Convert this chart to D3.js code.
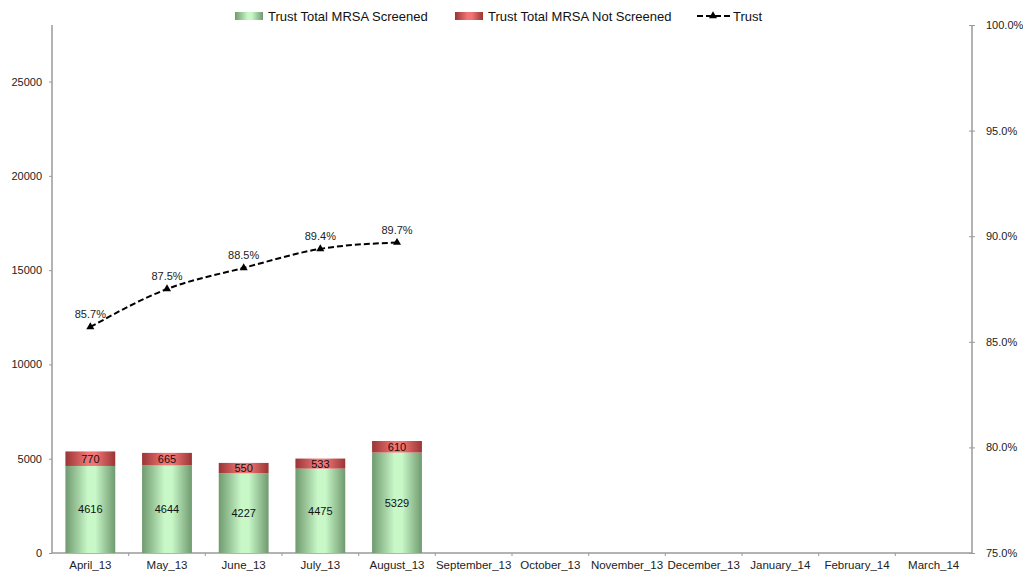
<!DOCTYPE html>
<html><head><meta charset="utf-8">
<script src="https://cdn.jsdelivr.net/npm/d3@7"></script>
<style>body{margin:0;background:#fff;}svg{display:block;font-family:"Liberation Sans",Arial,sans-serif;}</style>
</head><body><svg id="c" width="1023" height="573"></svg>
<script>
const categories = ["April_13","May_13","June_13","July_13","August_13","September_13","October_13","November_13","December_13","January_14","February_14","March_14"];
const screened = [4616,4644,4227,4475,5329,null,null,null,null,null,null,null];
const notScreened = [770,665,550,533,610,null,null,null,null,null,null,null];
const trust = [0.857,0.875,0.885,0.894,0.897,null,null,null,null,null,null,null];
const leftTicks = [0,5000,10000,15000,20000,25000];
const rightTicks = [0.75,0.80,0.85,0.90,0.95,1.00];

const svg = d3.select("#c");
const m = {l:52, r:972, t:25, b:553};
const x = d3.scaleBand().domain(categories).range([m.l,m.r]).paddingInner(0.35).paddingOuter(0.175);
const xb = d3.scaleBand().domain(categories).range([m.l,m.r]);
const yL = d3.scaleLinear().domain([0,28000]).range([m.b,m.t]);
const yR = d3.scaleLinear().domain([0.75,1.0]).range([m.b,m.t]);

const defs = svg.append("defs");
function grad(id, edge, mid){
  const g = defs.append("linearGradient").attr("id",id).attr("x1","0%").attr("x2","100%").attr("y1","0%").attr("y2","0%");
  g.append("stop").attr("offset","0%").attr("stop-color",edge);
  g.append("stop").attr("offset","45%").attr("stop-color",mid);
  g.append("stop").attr("offset","60%").attr("stop-color",mid);
  g.append("stop").attr("offset","100%").attr("stop-color",edge);
}
grad("gG","#6f9a6f","#c8f7c8");
grad("gR","#9a3535","#f27575");

const gray="#9a9a9a";
const axL = svg.append("g").attr("transform",`translate(${m.l},0)`).call(d3.axisLeft(yL).tickValues(leftTicks).tickSize(3).tickFormat(d3.format("d")));
const axR = svg.append("g").attr("transform",`translate(${m.r},0)`).call(d3.axisRight(yR).tickValues(rightTicks).tickSize(3).tickFormat(d3.format(".1%")));
axR.selectAll(".tick line").attr("x1",-3);
const axB = svg.append("g").attr("transform",`translate(0,${m.b})`).call(d3.axisBottom(xb).tickSize(0).tickPadding(8));
[axL,axR,axB].forEach(a=>{
  a.select(".domain").attr("stroke",gray).attr("stroke-width",1.5);
  a.selectAll(".tick line").attr("stroke",gray);
  a.selectAll("text").attr("fill","#222").style("font-size","11px").style("font-family","Liberation Sans, Arial, sans-serif");
});
axB.selectAll("text").style("font-size","11.5px");
axL.select(".domain").attr("d",`M0,${m.t}V${m.b}`);
axR.select(".domain").attr("d",`M0,${m.t}V${m.b}`);
axB.select(".domain").attr("d",`M${m.l},0H${m.r}`);
svg.append("g").selectAll("line").data(categories.slice(1)).join("line")
  .attr("x1",d=>xb(d)).attr("x2",d=>xb(d)).attr("y1",m.b).attr("y2",m.b+3).attr("stroke",gray);
axR.selectAll("text").attr("x",14);
axL.selectAll("text").attr("x",-10);

const data = categories.map((c,i)=>({c,s:screened[i],n:notScreened[i],t:trust[i]})).filter(d=>d.s!=null);
const bars = svg.append("g");
bars.selectAll("rect.s").data(data).join("rect").attr("class","s")
  .attr("x",d=>x(d.c)).attr("width",x.bandwidth())
  .attr("y",d=>yL(d.s)).attr("height",d=>yL(0)-yL(d.s)).attr("fill","url(#gG)");
bars.selectAll("rect.n").data(data).join("rect").attr("class","n")
  .attr("x",d=>x(d.c)).attr("width",x.bandwidth())
  .attr("y",d=>yL(d.s+d.n)).attr("height",d=>yL(d.s)-yL(d.s+d.n)).attr("fill","url(#gR)");
bars.selectAll("text.s").data(data).join("text").attr("class","s")
  .attr("x",d=>x(d.c)+x.bandwidth()/2).attr("y",d=>yL(d.s/2)+4).attr("text-anchor","middle")
  .style("font-size","11px").attr("fill","#111").text(d=>d.s);
bars.selectAll("text.n").data(data).join("text").attr("class","n")
  .attr("x",d=>x(d.c)+x.bandwidth()/2).attr("y",d=>yL(d.s+d.n/2)+4).attr("text-anchor","middle")
  .style("font-size","11px").attr("fill","#111").text(d=>d.n);

const cx = d=>xb(d.c)+xb.bandwidth()/2;
svg.append("path").datum(data).attr("fill","none").attr("stroke","#000").attr("stroke-width",2)
  .attr("stroke-dasharray","6,3")
  .attr("d",d3.line().x(cx).y(d=>yR(d.t)).curve(d3.curveMonotoneX));
const tri = d3.symbol().type(d3.symbolTriangle).size(28);
svg.append("g").selectAll("path").data(data).join("path").attr("d",tri)
  .attr("transform",d=>`translate(${cx(d)},${yR(d.t)})`).attr("fill","#000");
svg.append("g").selectAll("text").data(data).join("text")
  .attr("x",cx).attr("y",d=>yR(d.t)-9).attr("text-anchor","middle")
  .style("font-size","11px").attr("fill","#222").text(d=>d3.format(".1%")(d.t));

const lg = svg.append("g").style("font-size","13px");
lg.append("rect").attr("x",235).attr("y",12).attr("width",28).attr("height",8).attr("fill","url(#gG)");
lg.append("text").attr("x",268).attr("y",21).attr("fill","#111").text("Trust Total MRSA Screened");
lg.append("rect").attr("x",455).attr("y",12).attr("width",28).attr("height",8).attr("fill","url(#gR)");
lg.append("text").attr("x",488).attr("y",21).attr("fill","#111").text("Trust Total MRSA Not Screened");
lg.append("line").attr("x1",697).attr("x2",730).attr("y1",16).attr("y2",16).attr("stroke","#000").attr("stroke-width",2).attr("stroke-dasharray","6,3");
lg.append("path").attr("d",tri).attr("transform","translate(713,16)").attr("fill","#000");
lg.append("text").attr("x",733).attr("y",21).attr("fill","#111").text("Trust");
</script></body></html>
